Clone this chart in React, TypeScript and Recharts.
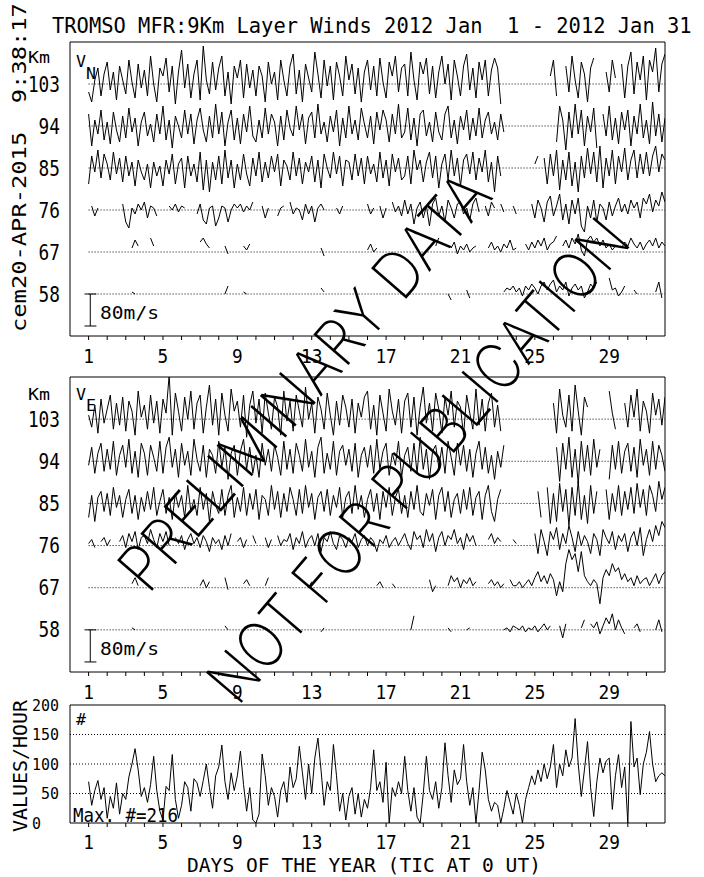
import React from 'react'
import { LineChart, Line, XAxis, YAxis, ReferenceLine, ReferenceArea } from 'recharts'

const _ = null

// km levels of the layer traces, tick labels on the left
const levels = [103, 94, 85, 76, 67, 58]
const dayTicks = [1, 2, 3, 4, 5, 6, 7, 8, 9, 10, 11, 12, 13, 14, 15, 16, 17, 18, 19, 20, 21, 22, 23, 24, 25, 26, 27, 28, 29, 30, 31]
const dayLabels = [1, 5, 9, 13, 17, 21, 25, 29]
const countTicks = [0, 50, 100, 150, 200]

// winds in m/s, one value every 4 hours from Jan 1 00 UT
const vn103 = [
  -20, -45, 10, 40, -30, 25, 55, -15, 30, -40, 45, 10,
  -25, 60, 5, -35, 50, -10, 35, -30, 70, 0, -45, 40,
  20, 65, -20, 45, -50, 30, 85, -10, 50, -35, 25, 60,
  -40, 95, 10, -25, 55, -15, 40, 70, -30, 30, -50, 45,
  15, 60, -35, 50, -10, 35, -30, 45, 20, -45, 55, 0,
  30, -40, 60, 10, -30, 45, 75, -25, 35, -45, 50, 15,
  -20, 80, 25, -35, 60, -5, 45, -40, 55, 20, -30, 70,
  10, 50, -25, 40, -45, 30, 60, -15, 45, -30, 65, 5,
  -35, 55, 20, 70, -20, 40, 50, -30, 80, 10, -40, 55,
  25, 65, -25, 45, -35, 30, 70, 0, 50, -40, 60, 20,
  -30, 45, 75, -15, 40, -35, 55, 10, 60, -30, 35, 65,
  40, -50, _, _, _, _, _, _, _, _, _, _,
  _, _, _, _, _, 20, 60, -30, _, _, 45, -20,
  70, 10, -35, 55, 25, -45, 40, 65, _, _, _, 30,
  -20, 60, 15, _, 50, -35, 45, 80, -25, 55, 10, 70,
  -40, 60, 30, 90, -20, 50, 75,
]
const vn94 = [
  30, -50, 15, -20, 40, -35, 10, -45, 35, -10, -40, 25,
  -30, 45, -15, 20, -50, 10, 35, -25, 5, -40, 30, -20,
  50, -35, 15, -55, 25, 0, -30, 40, -20, 30, -45, 15,
  45, -10, -40, 25, -30, 55, -20, 35, -50, 10, 40, -35,
  20, -45, 30, -15, 50, -25, -40, 15, -30, 45, -20, 30,
  10, -50, 25, -35, 40, -5, -25, 50, -10, 30, -45, 20,
  35, -30, 55, -20, 10, -40, 25, -15, 40, -50, 20, -30,
  50, -20, 15, -35, 45, 5, -30, 25, -45, 35, -10, 40,
  15, -40, 30, -20, 55, -30, -15, 45, -35, 20, -50, 30,
  40, -25, 10, -40, 35, -15, -35, 30, 50, -30, 15, -45,
  25, -10, 40, -35, 20, -25, 45, -30, 15, 35, -20, 10,
  -35, 30, -15, _, _, _, _, _, _, _, _, _,
  _, _, _, _, _, _, _, -40, 50, 15, -60, 35,
  -30, 55, -20, 40, -50, 25, -15, 45, -55, _, 30, -25,
  50, -35, 20, -45, 35, -10, 40, -50, 25, -20, 55, -30,
  15, -45, 60, -25, 30, -40, 20,
]
const vn85 = [
  -40, 30, -10, 45, -25, 35, 10, -30, 40, -15, 25, -35,
  30, -20, 15, -45, 20, -10, -30, 10, -50, 15, -20, 5,
  -45, 20, -15, 35, -40, 10, 25, -50, 30, -20, 10, -35,
  40, -55, 20, -60, 15, -30, 30, -40, 45, -25, 20, -50,
  10, -30, 35, -15, -45, 25, -20, 40, -35, 15, -25, 30,
  -10, 35, -45, 20, 5, -30, 40, -20, 25, -40, 15, -10,
  30, -35, 20, -50, 35, 0, -25, 40, -15, 30, -45, 20,
  15, -30, 35, -20, 25, -40, 30, -15, 10, -35, 40, -25,
  20, -45, 35, -10, 25, -30, -20, 30, -40, 45, -5, 20,
  -35, 15, 40, -25, 30, -50, 10, 35, -30, 45, -20, 25,
  -45, 20, 35, -15, 40, -30, 25, -10, 45, -35, 15, -60,
  30, -20, _, _, _, _, _, _, _, _, _, _,
  10, 30, _, 25, -40, 35, -20, 45, -55, 20, -30, 40,
  -45, 15, -60, 30, -25, 50, -15, 40, -35, 55, -50, 25,
  -20, 45, -40, 30, -10, 50, -30, 20, 45, -25, 35, -15,
  40, -20, 30, 55, -10, 35, 20,
]
const vn76 = [
  _, 10, -15, 5, _, _, _, _, _, _, _, 15,
  -30, -45, 5, -10, 15, 0, 20, -20, 10, 5, -15, _,
  _, _, 10, 0, 15, -5, 10, 5, _, _, _, -10,
  15, -25, -35, 5, 10, -40, -20, 10, 5, -30, 0, 15,
  5, 15, -5, 10, 0, 20, _, _, 10, -20, 5, _,
  _, -15, 5, 10, _, 20, -10, 5, 0, -25, 15, -10,
  10, -30, 5, 15, 0, _, _, _, 5, -10, 10, _,
  _, _, _, _, _, _, 15, -10, 5, _, 10, -20,
  5, _, 20, -5, 10, -15, 25, -10, 15, -35, 5, 20,
  -20, 10, -40, 15, 30, -15, 10, -30, 25, 5, -20, 15,
  20, -10, 5, -25, 15, 30, -5, _, 10, -15, 20, 5,
  _, 15, -5, _, _, 10, -10, _, _, _, _, 15,
  -20, 25, 5, -30, 20, 35, -15, 10, 40, -25, 15, -35,
  25, -10, 30, -40, -55, 10, -20, 25, -30, 15, 5, -25,
  20, -15, 10, 30, -5, 15, -10, 25, 5, 20, -20, 30,
  15, 40, -5, 25, 10, 45, 20,
]
const vn67 = [
  _, _, _, _, _, _, _, _, _, _, _, _,
  _, _, 10, 30, 15, _, _, _, 35, 15, _, _,
  _, _, _, _, _, _, _, _, _, _, _, _,
  25, 35, 20, 10, _, _, _, _, 15, -5, _, _,
  _, _, 15, 5, 20, _, _, _, _, _, _, _,
  _, _, _, _, _, _, _, _, _, _, _, _,
  _, _, _, 10, -10, _, _, _, _, _, _, _,
  _, _, _, _, _, _, 5, 20, 0, 10, _, _,
  _, _, _, _, _, _, _, _, _, _, _, _,
  _, _, _, _, 15, 35, _, _, _, 10, 25, -5,
  15, 5, 20, 0, 10, 15, _, _, _, 10, 25, 5,
  15, 0, 20, 10, 30, 5, 10, _, _, 20, 5, 25,
  10, 30, 15, 35, 5, 20, 25, 40, _, 15, 30, 10,
  35, 20, 45, 5, -10, 30, 40, 25, 35, 15, 30, 10,
  20, 5, 15, _, 10, 25, 15, 35, 20, 10, 25, 5,
  20, 30, 15, 35, 10, 25, 15,
]
const vn58 = [
  _, _, _, _, _, _, _, _, _, _, _, _,
  _, _, 5, 0, _, _, _, _, _, _, _, _,
  _, _, _, _, _, _, _, _, _, _, _, _,
  _, _, _, _, _, _, _, _, 0, 20, _, _,
  _, _, 5, 0, _, _, _, _, _, _, _, _,
  _, _, _, _, _, _, _, _, _, _, _, _,
  _, _, _, 15, 5, _, _, _, _, _, _, _,
  _, _, _, _, _, _, _, _, _, _, _, _,
  _, _, _, _, _, _, _, _, _, _, _, _,
  _, _, _, _, _, _, _, _, 0, -15, _, _,
  _, _, 10, -10, _, _, _, _, _, _, _, _,
  _, _, 5, 15, 10, 20, 5, 15, -5, 20, 10, 25,
  15, 0, 20, 30, 10, 25, 35, 5, 20, 10, 30, -5,
  15, 25, 10, 20, -10, 5, 25, 15, 30, _, _, _,
  40, 10, 15, -5, 5, 20, _, _, 10, 0, _, _,
  _, _, _, 5, 30, -10, _,
]

const ve103 = [
  10, -20, 35, -35, 50, -10, 25, 60, -25, 40, -15, 55,
  -30, 45, 20, -40, 70, 5, 35, -25, 60, -10, 45, -35,
  50, 15, 110, -40, 65, 20, -30, 55, 0, 70, -25, 40,
  60, -35, 30, 85, -15, 50, -40, 65, 10, -30, 75, 20,
  45, -20, 60, -45, 35, 70, -10, 50, -35, 65, 15, -25,
  55, 30, -40, 70, -5, 45, -30, 60, 20, -20, 80, 0,
  40, -35, 55, 25, -25, 65, 10, -40, 45, -15, 60, 30,
  -20, 50, -35, 40, 5, 55, 70, -25, 35, -40, 60, 15,
  -30, 75, 20, -15, 50, -35, 45, 65, -20, 55, -40, 30,
  80, -10, 40, -30, 65, 25, -35, 55, 10, 70, -20, 45,
  30, -40, 60, 15, -25, 75, -15, 50, -30, 40, 65, -20,
  35, -30, _, _, _, _, _, _, _, _, _, _,
  _, _, _, _, _, _, 40, -35, 75, 10, -20, 60,
  -30, 85, 20, -40, 55, 30, _, _, _, _, _, _,
  70, 15, -25, _, _, 40, -20, 60, 5, 75, -30, 45,
  20, -35, 65, 10, 50, -15, 55,
]
const ve94 = [
  -10, 35, -30, 20, 45, -25, 30, -20, 50, -35, 15, 40,
  -15, 55, -30, 25, -40, 45, 20, -35, 40, 10, -25, 50,
  -30, 35, 60, -15, 30, -40, 45, -10, 25, -35, 55, 5,
  -25, 40, -40, 30, 15, -30, 50, -15, 35, -45, 20, 40,
  -35, 25, 55, -20, 35, -30, 15, -40, 45, -10, 30, -25,
  40, 10, -35, 50, -20, 30, -30, 45, 15, -25, 55, -15,
  25, -40, 35, 60, -30, 20, -20, 50, -35, 25, 40, -10,
  30, -25, 45, -40, 15, 35, -15, 40, -30, 55, -20, 25,
  45, -35, 20, -10, 50, -40, 15, 35, -25, 45, -30, 60,
  -20, 30, -45, 25, 40, -15, 35, -30, 50, 10, -35, 45,
  -10, 40, -25, 30, -40, 20, 50, -20, 35, -30, 15, -45,
  25, -15, 40, _, _, _, _, _, _, _, _, _,
  _, _, _, _, _, _, _, 35, -50, 45, -20, 60,
  -40, 30, -55, 50, -25, 40, -35, 55, -15, 30, _, _,
  -45, 40, -20, 50, -30, 25, 45, -25, 35, -40, 55, -10,
  30, -35, 50, -20, 40, 15, -25,
]
const ve85 = [
  -35, 20, -45, 15, 30, -20, 25, -30, 40, -10, 20, -35,
  10, 35, -25, 20, -40, 15, -20, 30, -15, 40, -30, 5,
  35, -25, 15, -40, 25, -10, 20, -35, 45, -20, 10, -30,
  40, -15, 25, -45, 30, -5, -25, 35, -30, 20, 45, -35,
  15, -20, 40, -30, 25, -15, 35, -40, 20, 10, -30, 45,
  -15, 30, -35, 25, -20, 40, 10, -30, 35, -25, 45, -10,
  25, -40, 15, 30, -20, 35, -30, 20, -10, 40, -35, 15,
  30, -25, 45, -15, 20, -35, 10, 35, -20, 25, -40, 30,
  -10, 40, -30, 15, 35, -25, 20, -35, 30, -15, 45, -20,
  -30, 25, -5, 35, -40, 20, 40, -20, 30, -35, 10, 25,
  -25, 35, -15, 40, -30, 15, 30, -40, 20, 45, -20, -45,
  10, 35, _, _, _, _, _, _, _, _, _, _,
  _, 30, -35, _, 40, -50, 25, -45, 50, -20, 35, -55,
  40, -30, 55, -40, 20, -50, 45, -25, 30, _, _, 35,
  -40, 25, -20, 45, -30, 30, -15, 40, -25, 50, -10, 35,
  -30, 45, 20, -20, 55, 10, 40,
]
const ve76 = [
  5, 15, -5, _, 10, 20, 0, 15, _, _, 10, 25,
  -5, 30, 10, 35, -10, 20, 25, 5, 40, 15, -5, 30,
  10, 35, 0, _, 20, 5, 25, -10, 15, 30, 5, 20,
  -5, 25, 10, -15, 20, 5, 15, -10, 25, 0, 30, _,
  10, 20, -5, 15, _, 25, 5, _, _, 20, -5, 15,
  _, 25, 0, 15, 10, 30, -10, 20, 5, 35, -5, 15,
  25, 0, 30, -15, 20, 10, 35, 5, -10, 25, 15, -5,
  20, 10, 30, -5, 15, 25, 0, 20, 10, -15, 15, 5,
  25, -5, 10, 20, 0, 15, 30, 5, -10, 35, 15, 25,
  -5, 40, 10, 30, -15, 20, 35, 0, 25, 15, 40, 5,
  20, -10, 30, 10, 25, 0, _, _, _, 15, 30, 5,
  20, 10, _, _, _, 15, 5, _, _, _, _, _,
  30, -20, 40, 10, -25, 35, 15, 45, -10, 30, 5, 50,
  20, -15, 35, 0, 25, 10, -20, 30, 15, -25, 40, 20,
  5, 35, -10, 25, 10, 30, -15, 20, 35, 0, 45, -25,
  15, 40, 10, 50, 25, 60, 45,
]
const ve67 = [
  _, _, _, _, _, _, _, _, _, _, _, _,
  _, _, 10, 25, 5, _, _, _, _, _, _, _,
  _, _, _, _, _, _, _, _, _, _, _, _,
  5, 20, 0, 15, _, _, _, _, 25, -5, _, _,
  _, _, 10, 20, 5, _, _, _, _, 5, 25, _,
  _, _, _, _, _, _, _, _, _, _, 10, 0,
  15, _, _, _, _, _, _, _, _, _, _, _,
  _, _, _, _, _, _, _, _, _, 5, 15, 0,
  _, _, 10, 0, _, _, _, _, _, _, _, _,
  _, _, 20, -10, 5, _, _, _, 5, 30, 15, 25,
  0, 20, 10, 25, 5, 15, _, _, _, 10, 20, 5,
  15, 0, 10, _, 20, 5, 5, 15, 0, 10, 20, 5,
  25, 40, 15, 30, 10, 35, 20, -20, 15, -10, 60, 95,
  70, 85, 40, 90, 30, 15, 5, 20, 10, -40, 25, 45,
  30, 60, 40, 50, 20, 35, 15, 25, 5, 30, 10, 20,
  25, 5, 20, 35, 10, 30, 40,
]
const ve58 = [
  _, _, _, _, _, _, _, _, _, _, _, _,
  _, _, 5, 0, _, _, _, _, _, _, _, _,
  _, _, _, _, _, _, _, _, _, _, _, _,
  _, _, _, _, _, _, _, _, 10, 0, _, _,
  _, _, 0, 5, _, _, _, _, _, 5, 0, _,
  _, _, _, _, _, _, _, _, _, _, _, _,
  _, _, _, -5, 5, _, _, _, _, _, _, _,
  _, _, _, _, _, _, _, _, _, _, _, _,
  _, _, _, _, _, _, _, _, 0, 35, _, _,
  _, _, _, _, _, _, _, _, 5, -5, _, _,
  _, _, 0, 5, _, _, _, _, _, _, _, _,
  _, _, 0, 5, -5, 10, 5, 0, 10, -5, 5, 0,
  10, -5, 5, 15, 0, 10, _, _, 10, -20, 15, _,
  _, _, _, 5, 25, _, 15, 5, 20, -10, 10, 30,
  15, 40, 0, 25, 5, -10, _, _, 5, 15, -5, _,
  _, _, _, 0, 25, -5, _,
]

// values per hour
const counts = [
  70, 30, 55, 72, 40, 60, 8, 45, 25, 68, 15, 50,
  40, 78, 100, 126, 90, 45, 60, 35, 65, 113, 55, 20,
  5, 62, 55, 116, 40, 8, 30, 70, 60, 20, 75, 68,
  45, 72, 100, 60, 25, 80, 95, 132, 70, 40, 85, 55,
  80, 122, 65, 20, 60, 5, 0, 15, 117, 80, 30, 60,
  45, 10, 55, 70, 35, 95, 60, 75, 130, 85, 40, 100,
  50, 110, 144, 90, 30, 70, 55, 133, 80, 20, 50, 5,
  45, 60, 15, 50, 10, 40, 25, 60, 124, 55, 70, 35,
  103, 0, 60, 45, 70, 50, 113, 55, 20, 60, 10, 0,
  50, 113, 55, 40, 70, 25, 60, 136, 80, 35, 90, 65,
  75, 133, 70, 30, 60, 0, 55, 120, 90, 40, 20, 35,
  30, 0, 25, 55, 35, 15, 50, 30, 0, 40, 60, 80,
  65, 90, 70, 100, 75, 95, 133, 60, 100, 80, 124, 95,
  110, 177, 100, 45, 90, 138, 60, 11, 70, 110, 85, 105,
  110, 23, 80, 116, 60, 95, 0, 172, 95, 110, 48, 100,
  120, 155, 100, 70, 80, 85, 80,
]

const STEP = 4 / 24 // days between samples
const K = (9 * 32) / (42 * 80) // km of plot height per m/s (80 m/s bar)

const buildRows = (series: (number | null)[][]) =>
  series[0].map((_v, i) => {
    const row: Record<string, number | null> = { t: 1 + i * STEP }
    series.forEach((s, j) => {
      const v = s[i]
      row['h' + levels[j]] = v == null ? null : levels[j] + v * K
    })
    return row
  })

const northRows = buildRows([vn103, vn94, vn85, vn76, vn67, vn58])
const eastRows = buildRows([ve103, ve94, ve85, ve76, ve67, ve58])
const countRows = counts.map((n, i) => ({ t: 1 + i * STEP, n }))

const FONT = "'DejaVu Sans Mono', monospace"

const Mono = ({ x, y, s, size, w, transform }: any) => (
  <text x={x} y={y} transform={transform} fontFamily={FONT} fontSize={size} xmlSpace="preserve"
    style={{ whiteSpace: 'pre' }} textLength={s.length * w} lengthAdjust="spacingAndGlyphs" fill="#000">{s}</text>
)

const dayTick = (baseY: number) => (p: any) => {
  const v = p.payload.value
  if (!dayLabels.includes(v)) return <g />
  const s = String(v)
  return <Mono x={p.x - (s.length * 10.7) / 2} y={baseY} s={s} size={20} w={10.7} />
}

const kmTick = (p: any) => {
  const s = String(p.payload.value)
  return <Mono x={60 - s.length * 10.7} y={p.y + 7.6} s={s} size={21} w={10.7} />
}

const countTick = (p: any) => {
  const s = String(p.payload.value)
  const right = p.payload.value === 0 ? 41 : 59
  return <Mono x={right - s.length * 9} y={p.y + 5.8} s={s} size={16} w={9} />
}

const WindPanel = ({ rows, marginBottom, labelY }: any) => (
  <LineChart width={704} height={380} data={rows} margin={{ top: 42, right: 39, bottom: marginBottom, left: 0 }}>
    <XAxis type="number" dataKey="t" domain={[0, 32]} ticks={dayTicks} interval={0} height={30}
      axisLine={false} stroke="#000" tickSize={4} tick={dayTick(labelY)} allowDataOverflow />
    <YAxis type="number" domain={[49, 112]} ticks={levels} width={70} axisLine={false}
      tickLine={false} tick={kmTick} allowDataOverflow />
    <ReferenceArea x1={0} x2={32} y1={49} y2={112} fill="none" stroke="#000" ifOverflow="visible" />
    {levels.map((h) => (
      <ReferenceLine key={'g' + h} segment={[{ x: 1, y: h }, { x: 32, y: h }]} stroke="#000" strokeDasharray="1 2" />
    ))}
    <ReferenceLine segment={[{ x: 1.09, y: 58 }, { x: 1.09, y: 58 - 80 * K }]} stroke="#000" />
    <ReferenceLine segment={[{ x: 0.78, y: 58 }, { x: 1.42, y: 58 }]} stroke="#000" />
    <ReferenceLine segment={[{ x: 0.78, y: 58 - 80 * K }, { x: 1.42, y: 58 - 80 * K }]} stroke="#000" />
    {levels.map((h) => (
      <Line key={h} type="linear" dataKey={'h' + h} stroke="#000" strokeWidth={1} dot={false}
        activeDot={false} connectNulls={false} isAnimationActive={false} />
    ))}
  </LineChart>
)

export default function App() {
  return (
    <div style={{ position: 'absolute', left: 0, top: 0, width: 704, height: 877, background: '#fff', overflow: 'hidden' }}>
      <div style={{ position: 'absolute', left: 0, top: 0 }}>
        <WindPanel rows={northRows} marginBottom={14} labelY={363} />
      </div>
      <div style={{ position: 'absolute', left: 0, top: 335 }}>
        <WindPanel rows={eastRows} marginBottom={13} labelY={364} />
      </div>
      <div style={{ position: 'absolute', left: 0, top: 663 }}>
        <LineChart width={704} height={214} data={countRows} margin={{ top: 42, right: 39, bottom: 24, left: 0 }}>
          <XAxis type="number" dataKey="t" domain={[0, 32]} ticks={dayTicks} interval={0} height={30}
            axisLine={false} stroke="#000" tickSize={4} tick={dayTick(186)} allowDataOverflow />
          <YAxis type="number" domain={[0, 200]} ticks={countTicks} width={70} axisLine={false}
            tickLine={false} tick={countTick} allowDataOverflow />
          <ReferenceArea x1={0} x2={32} y1={0} y2={200} fill="none" stroke="#000" ifOverflow="visible" />
          {[50, 100, 150].map((v) => (
            <ReferenceLine key={v} y={v} stroke="#000" strokeDasharray="1 2" />
          ))}
          <Line type="linear" dataKey="n" stroke="#000" strokeWidth={1} dot={false} activeDot={false}
            isAnimationActive={false} />
        </LineChart>
      </div>
      <svg width={704} height={877} style={{ position: 'absolute', left: 0, top: 0, pointerEvents: 'none' }}>
        <Mono x={52} y={33} s="TROMSO MFR:9Km Layer Winds 2012 Jan  1 - 2012 Jan 31" size={21} w={12.3} />
        <Mono x={0} y={0} transform="translate(26,332) rotate(-90)" s="cem20-APR-2015  9:38:17" size={20} w={14.3} />
        <Mono x={28} y={63} s="Km" size={16} w={11} />
        <Mono x={28} y={400} s="Km" size={16} w={11} />
        <Mono x={76} y={67} s="V" size={16} w={10} />
        <Mono x={86} y={79} s="N" size={16} w={10} />
        <Mono x={76} y={400} s="V" size={16} w={10} />
        <Mono x={86} y={411} s="E" size={16} w={10} />
        <Mono x={100} y={319} s="80m/s" size={17} w={11.8} />
        <Mono x={100} y={655} s="80m/s" size={17} w={11.8} />
        <Mono x={76} y={725} s="#" size={15} w={10} />
        <Mono x={73} y={822} s="Max. #=216" size={20} w={10.5} />
        <Mono x={0} y={0} transform="translate(27,832) rotate(-90)" s="VALUES/HOUR" size={20} w={12} />
        <Mono x={187} y={872} s="DAYS OF THE YEAR (TIC AT 0 UT)" size={20} w={11.8} />
        <text transform="translate(304,381) rotate(-49)" textAnchor="middle" dy="0.36em" fontFamily="Inter"
          fontWeight={200} fontSize={64} textLength={528} lengthAdjust="spacingAndGlyphs" fill="#000">PRELIMINARY DATA</text>
        <text transform="translate(418,460) rotate(-49.6)" textAnchor="middle" dy="0.36em" fontFamily="Inter"
          fontWeight={200} fontSize={64} textLength={610} lengthAdjust="spacingAndGlyphs" fill="#000">NOT FOR PUBLICATION</text>
      </svg>
    </div>
  )
}
